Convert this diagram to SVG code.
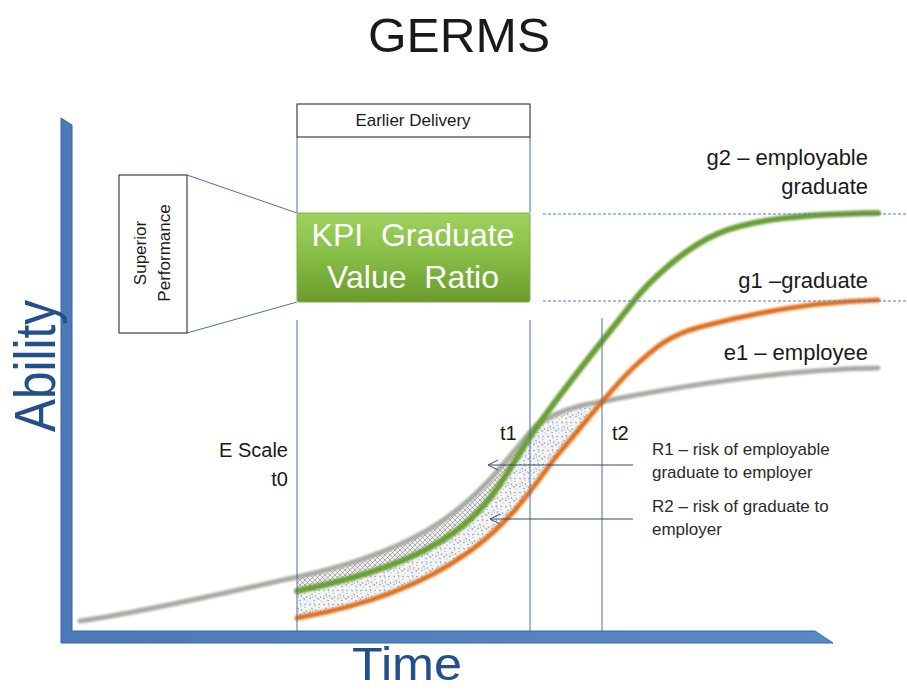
<svg xmlns="http://www.w3.org/2000/svg" width="907" height="690" viewBox="0 0 907 690">
  <style>
    .lbl { font-family: "Liberation Sans", Arial, sans-serif; fill: #1a1a1a; }
    .note { font-family: "Liberation Sans", Arial, sans-serif; fill: #2b2b2b; font-size: 17px; }
    .axis-title { font-family: "Liberation Sans", Arial, sans-serif; fill: #234f8c; }
    .guide { stroke: #4a6fa5; stroke-width: 1; fill: none; }
    .dash { stroke: #4f7fbd; stroke-width: 1; stroke-dasharray: 3 2; fill: none; }
    .box { fill: #ffffff; stroke: #1a1a1a; stroke-width: 1; }
    .curve { fill: none; stroke-linecap: round; stroke-linejoin: round; filter: url(#soft); }
    .pointer { stroke: #3b4a6b; stroke-width: 1; fill: none; }
  </style>
  <defs>
    <filter id="soft" x="-5%" y="-5%" width="110%" height="110%">
      <feGaussianBlur stdDeviation="0.9"/>
    </filter>
    <linearGradient id="kpiFill" x1="0" y1="0" x2="0" y2="1">
      <stop offset="0" stop-color="#9fd15e"/>
      <stop offset="0.5" stop-color="#86bd45"/>
      <stop offset="1" stop-color="#6a9a2c"/>
    </linearGradient>
    <linearGradient id="axisFill" x1="0" y1="0" x2="1" y2="0">
      <stop offset="0" stop-color="#4a7ab8"/>
      <stop offset="1" stop-color="#5a8ac6"/>
    </linearGradient>
    <!-- fine cross-hatch texture -->
    <pattern id="hatch" width="5" height="5" patternUnits="userSpaceOnUse">
      <rect width="5" height="5" fill="#f2f2f2"/>
      <path d="M0,0 L5,5 M5,0 L0,5" stroke="#7d7d7d" stroke-width="0.6"/>
    </pattern>
    <!-- speckled texture -->
    <pattern id="speckle" width="14" height="14" patternUnits="userSpaceOnUse">
      <rect width="14" height="14" fill="#f3f4f6"/>
      <path d="M1,2 l2,1 M6,1 l1,2 M10,3 l2,-1 M3,6 l2,1 M8,7 l-1,2 M12,8 l1,2 M1,11 l2,-1 M5,12 l2,1 M10,12 l1,-2 M4,9 l1,0 M11,5 l0,1" stroke="#6f7a8c" stroke-width="0.7" fill="none"/>
      <circle cx="7" cy="4" r="0.6" fill="#8a93a3"/>
      <circle cx="2" cy="8" r="0.6" fill="#8a93a3"/>
      <circle cx="9" cy="10" r="0.6" fill="#8a93a3"/>
      <circle cx="13" cy="13" r="0.5" fill="#8a93a3"/>
    </pattern>
    <clipPath id="underGray">
      <path d="M297,577 C447,544 480,492 530,432 C540,420 565,407 600,402 L602,401 L602,700 L297,700 Z"/>
    </clipPath>
    <marker id="openArrow" markerWidth="12" markerHeight="12" refX="11" refY="6" orient="auto" markerUnits="userSpaceOnUse">
      <path d="M1,1 L11,6 L1,11" fill="none" stroke="#3b4a6b" stroke-width="1"/>
    </marker>
  </defs>

  <rect width="907" height="690" fill="#ffffff"/>

  <!-- title -->
  <text id="title" x="459" y="52" text-anchor="middle" class="lbl" font-size="48" textLength="182" lengthAdjust="spacingAndGlyphs">GERMS</text>

  <!-- axes -->
  <g id="axes">
    <path d="M61,118 L72,125 L72,631 L815,631 L833,643 L61,643 Z" fill="url(#axisFill)" stroke="#3a67a3" stroke-width="1"/>
    <text class="axis-title" transform="translate(55,366) rotate(-90)" text-anchor="middle" font-size="58" textLength="132" lengthAdjust="spacingAndGlyphs">Ability</text>
    <text class="axis-title" x="407" y="680" text-anchor="middle" font-size="47" textLength="110" lengthAdjust="spacingAndGlyphs">Time</text>
  </g>

  <!-- shaded risk band between curves -->
  <g id="risk-band">
    <path clip-path="url(#underGray)" fill="url(#speckle)" d="M297,618 C487,585 525,493 560,452 C585,423 610,390 633,368 L633,300 L297,300 Z"/>
    <path clip-path="url(#underGray)" fill="url(#hatch)" d="M297,591 C477,555 490,497 530,437 L530,300 L297,300 Z"/>
  </g>

  <!-- ability curves -->
  <g id="curve-e1">
    <path class="curve" stroke="#a9aaa4" stroke-width="5" d="M80,621 C150,611 250,587 297,577 C447,544 480,492 530,432 C540,420 565,407 600,402 C640,394 760,370 878,368"/>
  </g>
  <g id="curve-g1">
    <path class="curve" stroke="#e0701f" stroke-width="5" d="M297,618 C487,585 525,493 560,452 C585,423 610,390 633,368 C655,347 670,335 700,327 S800,302 878,300"/>
  </g>
  <g id="curve-g2">
    <path class="curve" stroke="#6b9f36" stroke-width="6" d="M297,591 C477,555 490,497 530,437 C560,392 610,332 633,302 C650,280 685,248 717,234 S800,214 878,213"/>
  </g>

  <!-- level guides -->
  <g id="levels">
    <line class="dash" x1="543" y1="214" x2="907" y2="214"/>
    <line class="dash" x1="543" y1="301" x2="907" y2="301"/>
  </g>

  <!-- time markers -->
  <g id="time-markers">
    <line class="guide" x1="297" y1="137" x2="297" y2="213"/>
    <line class="guide" x1="530" y1="137" x2="530" y2="213"/>
    <line class="guide" x1="297" y1="320" x2="297" y2="631"/>
    <line class="guide" x1="530" y1="320" x2="530" y2="631"/>
    <line class="guide" x1="602" y1="318" x2="602" y2="631"/>
  </g>

  <!-- earlier delivery box -->
  <g id="earlier-delivery">
    <rect class="box" x="297" y="104" width="233" height="33"/>
    <text class="lbl" x="413" y="126" text-anchor="middle" font-size="17">Earlier Delivery</text>
  </g>

  <!-- KPI box -->
  <g id="kpi">
    <rect x="297" y="213" width="233" height="89" rx="2" fill="url(#kpiFill)" stroke="#7fae43" stroke-width="1"/>
    <text x="413" y="246" text-anchor="middle" font-family="Liberation Sans, Arial, sans-serif" font-size="32" fill="#ffffff" xml:space="preserve">KPI  Graduate</text>
    <text x="413" y="288" text-anchor="middle" font-family="Liberation Sans, Arial, sans-serif" font-size="32" fill="#ffffff" xml:space="preserve">Value  Ratio</text>
  </g>

  <!-- superior performance box -->
  <g id="superior-performance">
    <rect class="box" x="119" y="175" width="68" height="158"/>
    <text class="lbl" transform="translate(146,253) rotate(-90)" text-anchor="middle" font-size="17">Superior</text>
    <text class="lbl" transform="translate(170,253) rotate(-90)" text-anchor="middle" font-size="17">Performance</text>
  </g>

  <!-- curve labels -->
  <g id="labels">
    <text class="lbl" x="868" y="165" text-anchor="end" font-size="22">g2 – employable</text>
    <text class="lbl" x="868" y="194" text-anchor="end" font-size="22">graduate</text>
    <text class="lbl" x="868" y="288" text-anchor="end" font-size="22">g1 –graduate</text>
    <text class="lbl" x="868" y="360" text-anchor="end" font-size="22">e1 – employee</text>
    <text class="lbl" x="288" y="457" text-anchor="end" font-size="20">E Scale</text>
    <text class="lbl" x="288" y="486" text-anchor="end" font-size="20">t0</text>
    <text class="lbl" x="500" y="440" font-size="20">t1</text>
    <text class="lbl" x="612" y="440" font-size="20">t2</text>
    <text class="note" x="652" y="455">R1 – risk of employable</text>
    <text class="note" x="652" y="478">graduate to employer</text>
    <text class="note" x="652" y="512">R2 – risk of graduate to</text>
    <text class="note" x="652" y="535">employer</text>
  </g>

  <!-- connectors -->
  <g id="connectors">
    <line class="guide" x1="187" y1="175" x2="297" y2="213"/>
    <line class="guide" x1="187" y1="333" x2="297" y2="302"/>
    <line class="pointer" x1="633" y1="465" x2="488" y2="465" marker-end="url(#openArrow)"/>
    <line class="pointer" x1="633" y1="519" x2="490" y2="519" marker-end="url(#openArrow)"/>
  </g>
</svg>
